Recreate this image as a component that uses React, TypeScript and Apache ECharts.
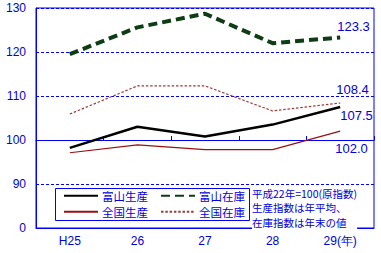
import React, { useEffect, useRef } from "react";
import * as echarts from "echarts";

const categories = ["H25", "26", "27", "28", "29(年)"];
const toyamaProd = [98.2, 103.0, 100.8, 103.5, 107.5];
const zenkokuProd = [97.1, 98.9, 97.8, 97.8, 102.0];
const toyamaStock = [119.5, 125.6, 128.7, 122.0, 123.3];
const zenkokuStock = [105.9, 112.3, 112.3, 106.6, 108.4];
const yMin = 80;
const yMax = 130;
const yInterval = 10;
const noteLines = ["平成22年=100(原指数)", "生産指数は年平均、", "在庫指数は年末の値"];

const BLUE = "#0000ff";
const TEXT_BLUE = "#0000e0";
const LABEL_FONT = "Liberation Sans";
const CJK = "Noto Sans CJK JP";

export default function App() {
  const ref = useRef<HTMLDivElement>(null);
  useEffect(() => {
    document.body.style.margin = "0";
    const chart = echarts.init(ref.current!, null, { renderer: "svg" });
    const endLabel = (dx: number, dy: number) => ({
      show: true,
      distance: 0,
      align: "left",
      verticalAlign: "middle",
      offset: [dx, dy],
      color: TEXT_BLUE,
      fontFamily: LABEL_FONT,
      fontSize: 13,
      formatter: (p: any) => Number(p.value).toFixed(1),
    });
    const legendCommon = {
      padding: 0,
      itemWidth: 34,
      itemHeight: 12,
      itemGap: 12,
      itemStyle: { opacity: 0 },
      textStyle: { color: TEXT_BLUE, fontFamily: CJK, fontSize: 11.5, padding: [0, 0, 0, -1] },
      selectedMode: false,
    };
    chart.setOption({
      animation: false,
      grid: [
        {
          left: 36,
          right: 7,
          top: 8,
          bottom: 25,
          show: true,
          borderColor: BLUE,
          borderWidth: 1,
          backgroundColor: "#fff",
        },
        { left: 36, right: 7, top: 8, bottom: 113 },
      ],
      xAxis: [
        {
          type: "category",
          data: categories,
          gridIndex: 0,
          axisLine: { lineStyle: { color: BLUE, width: 1 } },
          axisTick: { show: false },
          axisLabel: { color: TEXT_BLUE, fontFamily: LABEL_FONT, fontSize: 12, margin: 7 },
        },
        {
          type: "category",
          data: categories,
          gridIndex: 1,
          axisLine: { lineStyle: { color: BLUE, width: 1.2 } },
          axisTick: { show: true, inside: true, length: 4, lineStyle: { color: BLUE } },
          axisLabel: { show: false },
        },
      ],
      yAxis: [
        {
          type: "value",
          gridIndex: 0,
          min: yMin,
          max: yMax,
          interval: yInterval,
          axisLine: { show: true, lineStyle: { color: BLUE, width: 1 } },
          axisTick: { show: false },
          axisLabel: {
            color: TEXT_BLUE,
            fontFamily: LABEL_FONT,
            fontSize: 12,
            margin: 10,
            formatter: (v: number) => (v === yMin ? "0" : String(v)),
          },
          splitLine: { show: true, lineStyle: { color: BLUE, type: [3, 2], width: 1 } },
        },
        { type: "value", gridIndex: 1, min: 0, max: 1, show: false },
      ],
      legend: [
        { ...legendCommon, left: 63, top: 190, data: ["富山生産", "富山在庫"] },
        { ...legendCommon, left: 63, top: 206, data: ["全国生産", "全国在庫"] },
      ],
      graphic: [
        {
          type: "rect",
          left: 55,
          top: 188,
          shape: { width: 194, height: 32 },
          style: { fill: "#fff", stroke: BLUE, lineWidth: 1 },
          z: 3,
        },
        {
          type: "text",
          left: 252,
          top: 186,
          z: 3,
          style: {
            text: noteLines.join("\n"),
            fill: TEXT_BLUE,
            font: `10.5px "${CJK}"`,
            lineHeight: 14.5,
            backgroundColor: "#fff",
          },
        },
      ],
      series: [
        {
          name: "富山生産",
          type: "line",
          data: toyamaProd,
          symbol: "none",
          lineStyle: { color: "#000", width: 2.5 },
          itemStyle: { color: "#000" },
          endLabel: endLabel(0, 8),
          z: 5,
        },
        {
          name: "富山在庫",
          type: "line",
          data: toyamaStock,
          symbol: "none",
          lineStyle: { color: "#0d3d12", width: 4, type: [9, 5] },
          itemStyle: { color: "#0d3d12" },
          endLabel: endLabel(-3, -11),
          z: 5,
        },
        {
          name: "全国生産",
          type: "line",
          data: zenkokuProd,
          symbol: "none",
          lineStyle: { color: "#9a1010", width: 1.2 },
          itemStyle: { color: "#9a1010" },
          endLabel: endLabel(-5, 17.5),
          z: 4,
        },
        {
          name: "全国在庫",
          type: "line",
          data: zenkokuStock,
          symbol: "none",
          lineStyle: { color: "#a03a3a", width: 1.2, type: [2.5, 1.8] },
          itemStyle: { color: "#a03a3a" },
          endLabel: endLabel(-4, -13.5),
          z: 4,
        },
      ],
    });
    return () => chart.dispose();
  }, []);
  return <div ref={ref} style={{ width: 381, height: 253 }} />;
}
